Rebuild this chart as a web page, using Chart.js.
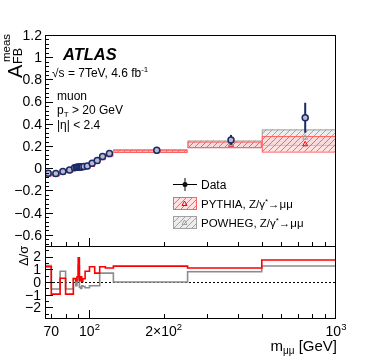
<!DOCTYPE html>
<html>
<head>
<meta charset="utf-8">
<script src="https://cdn.jsdelivr.net/npm/chart.js@4.4.1/dist/chart.umd.min.js"></script>
<style>
  body { margin: 0; background: #fff; }
  #wrap { position: relative; width: 374px; height: 357px; }
  canvas { position: absolute; left: 0; top: 0; }
</style>
</head>
<body>
<div id="wrap">
  <canvas id="top" width="374" height="357"></canvas>
  <canvas id="ratio" width="374" height="357"></canvas>
</div>
<script>
// mass bins [GeV]
const binEdges = [66, 70, 76, 80, 86, 88, 89, 90, 91, 92, 93, 94, 96, 100, 105, 110, 116, 125, 250, 500, 1000];

// measured A_FB and stat. error
const dataAfb = [-0.045, -0.048, -0.03, -0.015, 0.004, 0.008, 0.01, 0.011, 0.012, 0.012, 0.013, 0.015, 0.02, 0.045, 0.07, 0.105, 0.132, 0.162, 0.255, 0.455];
const dataErr = [0.006, 0.005, 0.005, 0.004, 0.004, 0.004, 0.004, 0.003, 0.003, 0.003, 0.004, 0.004, 0.005, 0.006, 0.007, 0.008, 0.009, 0.02, 0.045, 0.135];

// MC predictions (centre and half band)
const pythiaAfb = [-0.055, -0.055, -0.035, -0.022, 0.002, 0.007, 0.008, 0.005, 0.011, 0.011, 0.012, 0.014, 0.014, 0.035, 0.064, 0.095, 0.122, 0.155, 0.215, 0.22];
const pythiaErr = [0.008, 0.008, 0.008, 0.008, 0.006, 0.006, 0.006, 0.006, 0.006, 0.006, 0.006, 0.006, 0.007, 0.008, 0.008, 0.008, 0.008, 0.008, 0.025, 0.07];
const powhegAfb = [-0.055, -0.05, -0.037, -0.02, 0.003, 0.01, 0.009, 0.007, 0.013, 0.014, 0.014, 0.016, 0.023, 0.047, 0.072, 0.1, 0.126, 0.16, 0.22, 0.28];
const powhegErr = [0.008, 0.008, 0.008, 0.008, 0.006, 0.006, 0.006, 0.006, 0.006, 0.006, 0.006, 0.006, 0.007, 0.008, 0.008, 0.008, 0.008, 0.012, 0.03, 0.07];

// (data - MC) / sigma
const pullPythia = [1.2, -0.95, 0.3, -0.95, 0.25, 0.1, 0.4, 1.9, 0.1, 0.4, 0.05, 0.25, 0.85, 1.2, 0.7, 1.2, 1.1, 1.25, 1.1, 1.73];
const pullPowheg = [1.3, -0.55, 0.85, -0.55, 0.3, -0.3, 0.2, 1.3, -0.4, -0.5, -0.3, -0.35, -0.45, -0.3, -0.3, 0.7, 0.7, 0.0, 0.8, 1.26];

// axis labels
const yTicksTop = [1.2, 1, 0.8, 0.6, 0.4, 0.2, 0, -0.2, -0.4, -0.6];
const yTicksRatio = [2, 1, 0, -1, -2];
const xTickValues = [70, 100, 200, 1000];
const xTickBase = ['70', '10', '2\u00d710', '10'];
const xTickExp = ['', '2', '2', '3'];

const FONT = '"Liberation Sans", Arial, sans-serif';
const RED = '#ff0000';
const GREY = '#8c8c8c';
const NAVY = '#1b2a66';

const centers = binEdges.slice(0, -1).map((lo, i) => (lo + binEdges[i + 1]) / 2);

function fnt(size, style) {
    return (style || '') + ' ' + size + 'px ' + FONT;
}

// text made of pieces: [text, size, dy, style]
function drawRich(ctx, parts, x, y, align) {
    let w = 0;
    parts.forEach((p) => { ctx.font = fnt(p[1], p[3]); w += ctx.measureText(p[0]).width; });
    let cx = align === 'right' ? x - w : align === 'center' ? x - w / 2 : x;
    ctx.textAlign = 'left';
    ctx.textBaseline = 'alphabetic';
    parts.forEach((p) => {
        ctx.font = fnt(p[1], p[3]);
        ctx.fillText(p[0], cx, y + (p[2] || 0));
        cx += ctx.measureText(p[0]).width;
    });
}

function hatch(ctx, color, bg) {
    const c = document.createElement('canvas');
    c.width = 6; c.height = 6;
    const g = c.getContext('2d');
    g.fillStyle = bg; g.fillRect(0, 0, 6, 6);
    g.strokeStyle = color; g.lineWidth = 0.9;
    g.beginPath();
    g.moveTo(0, 6); g.lineTo(6, 0);
    g.moveTo(-1, 1); g.lineTo(1, -1);
    g.moveTo(5, 7); g.lineTo(7, 5);
    g.stroke();
    return ctx.createPattern(c, 'repeat');
}

let fills = null;
function getFills(ctx) {
    if (!fills) {
        fills = {
            red: hatch(ctx, '#ff5a5a', 'rgba(255,205,205,0.6)'),
            grey: hatch(ctx, '#9a9a9a', 'rgba(225,225,225,0.6)'),
        };
    }
    return fills;
}

function seg(ctx, x0, y0, x1, y1) {
    ctx.beginPath(); ctx.moveTo(x0, y0); ctx.lineTo(x1, y1); ctx.stroke();
}

function triangle(ctx, x, y, r, color) {
    ctx.strokeStyle = color; ctx.lineWidth = 1;
    ctx.beginPath();
    ctx.moveTo(x, y - r); ctx.lineTo(x + r, y + r * 0.8); ctx.lineTo(x - r, y + r * 0.8); ctx.closePath();
    ctx.stroke();
}

function xTickMarks(ctx, xs, yEdge, big, small) {
    ctx.strokeStyle = '#000'; ctx.lineWidth = 1;
    const vals = [];
    for (let d = 10; d <= 100; d *= 10) for (let k = 1; k <= 9; k++) vals.push(d * k);
    vals.forEach((v) => {
        if (v < 66 || v >= 1000) return;
        const px = Math.round(xs.getPixelForValue(v)) + 0.5;
        seg(ctx, px, yEdge, px, yEdge - (v === 100 ? big : small));
    });
}

// MC bands, data error bars, frame, ticks, texts for the upper pad
const topPlugin = {
    id: 'topPad',
    beforeDatasetsDraw(chart) {
        const { ctx, chartArea: a, scales: { x, y } } = chart;
        const f = getFills(ctx);
        ctx.save();
        ctx.beginPath(); ctx.rect(a.left, a.top, a.right - a.left, a.bottom - a.top); ctx.clip();
        const band = (vals, errs, fill, line) => {
            vals.forEach((v, i) => {
                const x0 = x.getPixelForValue(binEdges[i]);
                const x1 = x.getPixelForValue(binEdges[i + 1]);
                const y0 = y.getPixelForValue(v + errs[i]);
                const y1 = y.getPixelForValue(v - errs[i]);
                ctx.fillStyle = fill;
                ctx.fillRect(x0, y0, x1 - x0, y1 - y0);
                ctx.strokeStyle = line; ctx.lineWidth = 1;
                ctx.strokeRect(x0 + 0.5, y0 + 0.5, x1 - x0 - 1, y1 - y0);
            });
        };
        band(powhegAfb, powhegErr, f.grey, '#a0a0a0');
        band(pythiaAfb, pythiaErr, f.red, '#ff6060');
        // MC markers
        pythiaAfb.forEach((v, i) => triangle(ctx, x.getPixelForValue(centers[i]), y.getPixelForValue(v), 2.5, RED));
        powhegAfb.forEach((v, i) => triangle(ctx, x.getPixelForValue(centers[i]), y.getPixelForValue(v), 2.5, '#a0a0a0'));
        // data error bars
        ctx.strokeStyle = NAVY; ctx.lineWidth = 2;
        dataAfb.forEach((v, i) => {
            const px = x.getPixelForValue(centers[i]);
            seg(ctx, px, y.getPixelForValue(v + dataErr[i]), px, y.getPixelForValue(v - dataErr[i]));
        });
        ctx.restore();
    },
    afterDraw(chart) {
        const { ctx, chartArea: a, scales: { x, y } } = chart;
        const f = getFills(ctx);
        ctx.save();
        ctx.strokeStyle = '#000'; ctx.lineWidth = 1;
        ctx.strokeRect(a.left + 0.5, a.top + 0.5, a.right - a.left - 1, a.bottom - a.top);
        // y ticks
        for (let i = -17; i <= 30; i++) {
            const py = Math.round(y.getPixelForValue(i * 0.04)) + 0.5;
            seg(ctx, a.left, py, a.left + (i % 5 === 0 ? 8 : 4), py);
        }
        xTickMarks(ctx, x, a.bottom, 8, 4);
        ctx.fillStyle = '#000';
        ctx.textAlign = 'right'; ctx.textBaseline = 'middle';
        ctx.font = fnt(14);
        yTicksTop.forEach((v) => {
            ctx.fillText(String(v).replace('-', '\u2212'), a.left - 3, y.getPixelForValue(v) + 1);
        });

        // y title A_FB^meas, rotated
        ctx.save();
        ctx.translate(22, 78);
        ctx.rotate(-Math.PI / 2);
        ctx.textAlign = 'left'; ctx.textBaseline = 'alphabetic';
        ctx.font = fnt(20); ctx.fillText('A', 0, 0);
        ctx.font = fnt(12.5); ctx.fillText('FB', 14, 0);
        ctx.font = fnt(11.5); ctx.fillText('meas', 16, -12);
        ctx.restore();

        // labels
        drawRich(ctx, [['ATLAS', 16.5, 0, 'italic bold']], 63, 60);
        drawRich(ctx, [['\u221As = 7TeV, 4.6 fb', 12], ['-1', 8, -5]], 52, 77);
        drawRich(ctx, [['muon', 12]], 57, 100);
        drawRich(ctx, [['p', 12], ['T', 8, 3], [' > 20 GeV', 12]], 57, 113.5);
        drawRich(ctx, [['|\u03b7| < 2.4', 12]], 57, 128.5);

        // legend
        ctx.strokeStyle = '#000'; ctx.lineWidth = 1;
        seg(ctx, 173, 184.5, 197, 184.5);
        seg(ctx, 185, 178, 185, 191);
        ctx.fillStyle = '#111';
        ctx.beginPath(); ctx.arc(185, 184.5, 2.5, 0, Math.PI * 2); ctx.fill();
        const boxes = [[197, f.red, '#ff6060', RED], [216, f.grey, '#a0a0a0', '#a0a0a0']];
        boxes.forEach((b) => {
            ctx.fillStyle = b[1]; ctx.fillRect(173, b[0], 23, 12);
            ctx.strokeStyle = b[2]; ctx.strokeRect(173.5, b[0] + 0.5, 23, 12);
            triangle(ctx, 184.5, b[0] + 6.5, 2.5, b[3]);
        });
        ctx.fillStyle = '#000';
        drawRich(ctx, [['Data', 12]], 201, 188.5);
        drawRich(ctx, [['PYTHIA, Z/\u03b3', 11.5], ['*', 8, -4], ['\u2192\u03bc\u03bc', 11.5]], 201, 207.5);
        drawRich(ctx, [['POWHEG, Z/\u03b3', 11.5], ['*', 8, -4], ['\u2192\u03bc\u03bc', 11.5]], 201, 226.5);
        ctx.restore();
    }
};

// zero line, frame, ticks and x labels for the ratio pad
const ratioPlugin = {
    id: 'ratioPad',
    beforeDatasetsDraw(chart) {
        const { ctx, chartArea: a, scales: { y } } = chart;
        ctx.save();
        ctx.strokeStyle = '#000'; ctx.lineWidth = 1; ctx.setLineDash([2, 2]);
        const py = Math.round(y.getPixelForValue(0)) + 0.5;
        seg(ctx, a.left, py, a.right, py);
        ctx.restore();
    },
    afterDraw(chart) {
        const { ctx, chartArea: a, scales: { x, y } } = chart;
        ctx.save();
        ctx.strokeStyle = '#000'; ctx.lineWidth = 1;
        ctx.strokeRect(a.left + 0.5, a.top + 0.5, a.right - a.left - 1, a.bottom - a.top);
        for (let i = -5; i <= 5; i++) {
            const py = Math.round(y.getPixelForValue(i * 0.5)) + 0.5;
            seg(ctx, a.left, py, a.left + (i % 2 === 0 ? 8 : 4), py);
        }
        xTickMarks(ctx, x, a.bottom, 8, 4);
        ctx.fillStyle = '#000';
        ctx.textAlign = 'right'; ctx.textBaseline = 'middle';
        ctx.font = fnt(14);
        yTicksRatio.forEach((v) => {
            ctx.fillText(String(v).replace('-', '\u2212'), a.left - 4, y.getPixelForValue(v) + 1);
        });
        xTickValues.forEach((v, i) => {
            const parts = [[xTickBase[i], 14]];
            if (xTickExp[i]) parts.push([xTickExp[i], 9.5, -6]);
            drawRich(ctx, parts, x.getPixelForValue(v), 336, 'center');
        });
        drawRich(ctx, [['m', 15], ['\u03bc\u03bc', 10, 3], [' [GeV]', 15]], 337, 351, 'right');

        ctx.save();
        ctx.translate(28, 266);
        ctx.rotate(-Math.PI / 2);
        drawRich(ctx, [['\u0394/\u03c3', 13]], 0, 0);
        ctx.restore();
        ctx.restore();
    }
};

new Chart(document.getElementById('top'), {
    type: 'scatter',
    data: {
        datasets: [{
            label: 'Data',
            data: centers.map((c, i) => ({ x: c, y: dataAfb[i] })),
            pointRadius: 3,
            pointBorderWidth: 1.5,
            pointBorderColor: NAVY,
            pointBackgroundColor: '#b9b9cf',
        }],
    },
    options: {
        responsive: false,
        animation: false,
        layout: { padding: { left: 45, top: 35, right: 38, bottom: 111 } },
        plugins: { legend: { display: false }, tooltip: { enabled: false } },
        scales: {
            x: { type: 'logarithmic', min: 66, max: 1000, display: false },
            y: { type: 'linear', min: -0.7, max: 1.2, display: false },
        },
    },
    plugins: [topPlugin],
});

const stepData = (pulls) => pulls.map((p, i) => ({ x: binEdges[i], y: p }))
    .concat([{ x: binEdges[binEdges.length - 1], y: pulls[pulls.length - 1] }]);

new Chart(document.getElementById('ratio'), {
    type: 'line',
    data: {
        datasets: [
            { label: 'PYTHIA', data: stepData(pullPythia), stepped: 'before', borderColor: RED, borderWidth: 1.6, pointRadius: 0, fill: false },
            { label: 'POWHEG', data: stepData(pullPowheg), stepped: 'before', borderColor: GREY, borderWidth: 1.6, pointRadius: 0, fill: false },
        ],
    },
    options: {
        responsive: false,
        animation: false,
        layout: { padding: { left: 45, top: 246, right: 38, bottom: 39 } },
        plugins: { legend: { display: false }, tooltip: { enabled: false } },
        scales: {
            x: { type: 'logarithmic', min: 66, max: 1000, display: false },
            y: { type: 'linear', min: -2.83, max: 2.83, display: false },
        },
    },
    plugins: [ratioPlugin],
});
</script>
</body>
</html>
